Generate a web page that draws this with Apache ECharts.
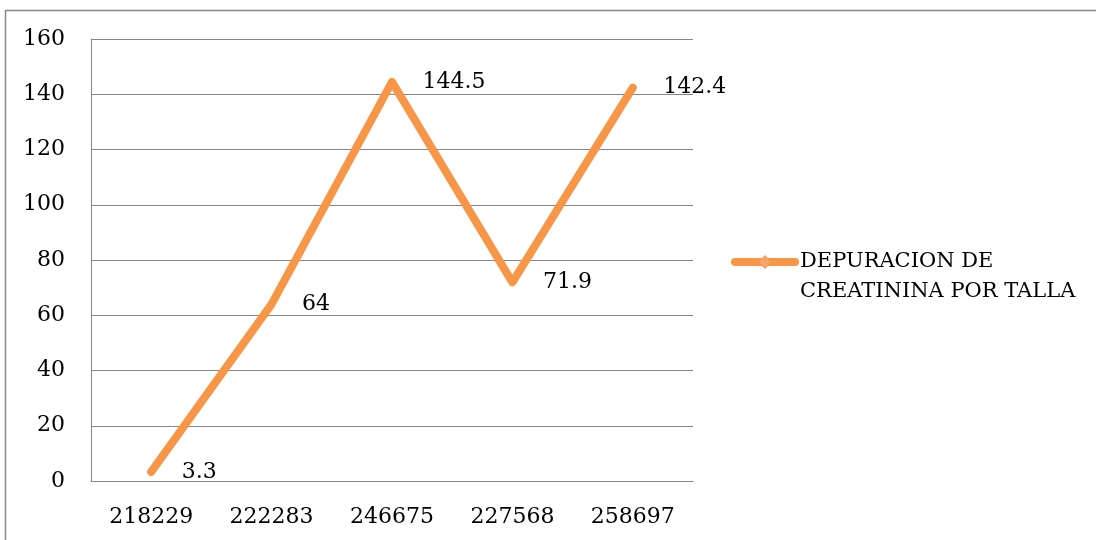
<!DOCTYPE html>
<html>
<head>
<meta charset="utf-8">
<script src="https://cdn.jsdelivr.net/npm/echarts@6/dist/echarts.min.js"></script>
<style>
html,body{margin:0;padding:0;background:#fff;}
#chart{width:1096px;height:540px;}
</style>
</head>
<body>
<div id="chart"></div>
<script>
var categories = ['218229', '222283', '246675', '227568', '258697'];
var values = [3.3, 64, 144.5, 71.9, 142.4];
var seriesName = 'DEPURACION DE\nCREATININA POR TALLA';
var yTicks = {min: 0, max: 160, interval: 20};

var FONT = 'DejaVu Serif';
var chart = echarts.init(document.getElementById('chart'), null, {renderer: 'canvas'});
chart.setOption({
  backgroundColor: '#ffffff',
  animation: false,
  graphic: [{
    type: 'rect',
    shape: {x: 5.5, y: 10.5, width: 1200, height: 600},
    style: {fill: 'none', stroke: '#898989', lineWidth: 1.5},
    silent: true
  }],
  grid: {left: 91, right: 403, top: 39, bottom: 59, containLabel: false},
  legend: {
    show: true,
    orient: 'vertical',
    left: 731,
    top: 217,
    padding: 0,
    itemWidth: 60,
    itemHeight: 16,
    data: [seriesName],
    formatter: function (name) { return ' \n' + name; },
    lineStyle: {color: '#F79646', width: 8, cap: 'round'},
    itemStyle: {color: '#F9A46A', borderColor: '#F79646', borderWidth: 1},
    textStyle: {fontFamily: FONT, fontSize: 21, color: '#000', lineHeight: 30}
  },
  xAxis: {
    type: 'category',
    data: categories,
    boundaryGap: true,
    axisLine: {show: true, lineStyle: {color: '#868686', width: 1}},
    axisTick: {show: false},
    axisLabel: {fontFamily: FONT, fontSize: 22, color: '#000', margin: 25},
    splitLine: {show: false}
  },
  yAxis: {
    type: 'value',
    min: yTicks.min,
    max: yTicks.max,
    interval: yTicks.interval,
    axisLine: {show: true, lineStyle: {color: '#868686', width: 1}},
    axisTick: {show: false},
    axisLabel: {fontFamily: FONT, fontSize: 22, color: '#000', margin: 26},
    splitLine: {show: true, lineStyle: {color: '#868686', width: 1}}
  },
  series: [{
    name: seriesName,
    type: 'line',
    data: values,
    symbol: 'diamond',
    symbolSize: 1,
    showSymbol: true,
    itemStyle: {color: '#F79646'},
    lineStyle: {color: '#F79646', width: 8, cap: 'round', join: 'round'},
    label: {show: true, position: 'right', distance: 30, fontFamily: FONT, fontSize: 22, color: '#000'}
  }]
});
</script>
</body>
</html>
